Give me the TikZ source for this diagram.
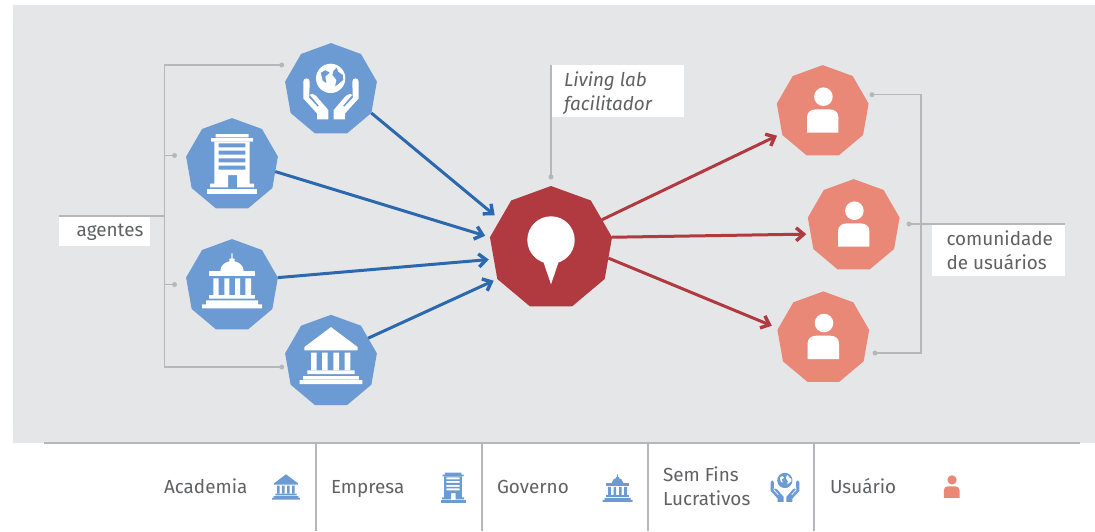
\documentclass[tikz,border=0pt]{standalone}
\usepackage{fontspec}
\setmainfont{Fira Sans}
\usetikzlibrary{shapes.geometric,arrows.meta}
\definecolor{bggray}{HTML}{E5E6E8}
\definecolor{ngblue}{HTML}{6C9AD2}
\definecolor{arblue}{HTML}{2B68AE}
\definecolor{arred}{HTML}{B03A40}
\definecolor{salmon}{HTML}{EA8877}
\definecolor{leader}{HTML}{B5B7BA}
\definecolor{txtgray}{HTML}{606163}
\tikzset{
  nona/.style={regular polygon,regular polygon sides=9,minimum size=93.2pt,inner sep=0pt,outer sep=0pt,draw=none},
  agentnode/.style={nona,fill=ngblue},
  usernode/.style={nona,fill=salmon},
  hubnode/.style={nona,minimum size=124pt,fill=arred},
  inflow/.style={draw=arblue,line width=3pt,-{Straight Barb[length=7.5pt,width=13pt,line width=3.4pt]}},
  outflow/.style={draw=arred,line width=3pt,-{Straight Barb[length=7.5pt,width=13pt,line width=3.4pt]}},
  leadline/.style={draw=leader,line width=1.3pt},
  leaddot/.style={fill=leader},
  labelbox/.style={fill=white,draw=none,inner sep=0pt,outer sep=0pt,anchor=north west},
  txt/.style={text=txtgray,font=\fontsize{18.9}{24}\selectfont,inner sep=0pt,outer sep=0pt,anchor=base west,align=left},
  legendrule/.style={draw=leader,line width=1.1pt},
  pics/academy/.style={code={
    \fill[#1] (0,-34.3) -- (26.7,-14.3) -- (26.7,-11) -- (-26.7,-11) -- (-26.7,-14.3) -- cycle;
    \fill[#1] (-20,-8.7) rectangle (-14.3,9) (-9,-8.7) rectangle (-3.3,9) (2.3,-8.7) rectangle (8,9) (13.7,-8.7) rectangle (19.3,9);
    \fill[#1] (-23.7,9) rectangle (23.7,12.7) (-27.8,14.7) rectangle (27.8,18.3) (-31.3,18.7) rectangle (31.3,22.7);
  }},
  pics/building/.style={code={
    \fill[#1] (-16.5,-30.7) rectangle (16.5,-27.3) (-21,-26.7) rectangle (21,-23);
    \fill[#1,even odd rule] (-17.7,-23) -- (17.7,-23) -- (17.7,19) -- (22,19) -- (22,22.7) -- (5,22.7) -- (5,10.3) -- (-4,10.3) -- (-4,22.7) -- (-22,22.7) -- (-22,19) -- (-17.7,19) -- cycle
      (-13.3,-21.3) rectangle (13.3,-17.3) (-13.3,-14) rectangle (13.3,-10) (-13.3,-6.3) rectangle (13.3,-2.3) (-13.3,1) rectangle (13.3,5);
    \fill[#1] (-25,24) rectangle (25,29.3);
  }},
  pics/government/.style={code={
    \fill[#1] (-0.7,-32.3) rectangle (0.7,-25) (-2.7,-27) rectangle (2.7,-23);
    \fill[#1] (-11.7,-14.7) arc[start angle=180,end angle=0,x radius=11.7,y radius=-10] -- cycle;
    \fill[#1] (-22.8,-14.7) rectangle (22.8,-9.3);
    \fill[#1] (-18.7,-7.3) rectangle (-13.3,9.3) (-7.7,-7.3) rectangle (-2.7,9.3) (3,-7.3) rectangle (8,9.3) (13.3,-7.3) rectangle (19,9.3);
    \fill[#1] (-22.8,9.3) rectangle (22.8,13) (-26,14.7) rectangle (26,18.3) (-30,18.7) rectangle (30,22.7);
  }},
  pics/earthhands/.style={code={
    \begin{scope}[scale=1/3,shift={(-483,-179)}]
      \fill[#1,even odd rule] (482,145) circle[radius=44]
        (500,112) -- (505,125) -- (519,135) -- (520,150) -- (508,160) -- (495,170) -- (499,150) -- (487,135) -- (490,122) -- cycle
        (452,128) -- (466,120) -- (480,128) -- (466,140) -- (470,160) -- (458,152) -- cycle;
    \end{scope}
    \foreach \sx in {1,-1}{
      \begin{scope}[xscale=\sx]
        \fill[#1] (21.3,-8) .. controls (21.3,-10) and (22.5,-11.3) .. (24.5,-11.3) .. controls (26.5,-11.3) and (27.7,-10) .. (27.7,-8) -- (27.7,8.7) -- (14,23.7) -- (14,29.7) -- (2.7,29.7) -- (2.7,20.3) -- (15,6) .. controls (17,4) and (20.5,3.5) .. (21,5.5) -- (12,16) -- (13.2,17.2) -- (21.8,8) -- cycle;
      \end{scope}
    }
  }},
  pics/person/.style={code={
    \fill[#1] (0.7,-15) circle[radius=9.3];
    \fill[#1] (-15.7,21) -- (-15.7,5.7) .. controls (-15.7,0.5) and (-12,-2.3) .. (-7,-2.3) -- (7,-2.3) .. controls (12,-2.3) and (15.7,0.5) .. (15.7,5.7) -- (15.7,21) -- cycle;
  }},
}
\begin{document}
\begin{tikzpicture}[x=1pt,y=-1pt]
\useasboundingbox (0,0) rectangle (1095,531);
\fill[bggray] (13,5) rectangle (1095,443);

% nodes
\node[agentnode] (globe) at (331,89.7) {};
\node[agentnode] (bldg) at (232,164.7) {};
\node[agentnode] (gov) at (232,285.7) {};
\node[agentnode] (acad) at (331,361.4) {};
\node[hubnode] (hub) at (551,248) {};
\node[usernode] (u1) at (822.7,111.7) {};
\node[usernode] (u2) at (853.7,225.7) {};
\node[usernode] (u3) at (823.3,338) {};

% leader end points
\coordinate (dglobe) at (281.7,65);
\coordinate (dbldg) at (174.5,155.5);
\coordinate (dgov) at (174.5,284.5);
\coordinate (dacad) at (281.7,367);
\coordinate (dhub) at (551,177);
\coordinate (du1) at (872,94.7);
\coordinate (du2) at (909,224);
\coordinate (du3) at (875,353);

% label boxes
\node[labelbox,minimum width=91pt,minimum height=30pt] (agbox) at (59,216) {};
\node[labelbox,minimum width=132pt,minimum height=52pt] (fabox) at (552,65) {};
\node[labelbox,minimum width=133pt,minimum height=52pt] (cobox) at (932,224) {};

% leaders left
\draw[leadline] (dglobe) -- (164.5,65) -- (164.5,367) -- (dacad);
\draw[leadline] (agbox.north west) -- (164.5,216);
\draw[leadline] (164.5,155.5) -- (dbldg);
\draw[leadline] (164.5,284.5) -- (dgov);
\draw[leadline] (fabox.north west) ++(-1,-0.5) -- (dhub);
\draw[leadline] (du1) -- (921,94.7) -- (921,353) -- (du3);
\draw[leadline] (du2) -- (cobox.north east);
\foreach \d in {dglobe,dbldg,dgov,dacad,dhub,du1,du2,du3}
  \fill[leaddot] (\d) circle[radius=2.5];

% arrows
\draw[inflow,shorten >=7pt] (globe.-30) -- (hub.151);
\draw[inflow,shorten >=5pt] (bldg.-9) -- (hub.170);
\draw[inflow,shorten >=5pt] (gov.10) -- (hub.191);
\draw[inflow,shorten >=4pt] (acad.32) -- (hub.210);
\draw[outflow,shorten >=5.5pt] (hub.29) -- (u1.208);
\draw[outflow,shorten >=4.5pt] (hub.10) -- (u2.191.6);
\draw[outflow,shorten >=7pt] (hub.-10) -- (u3.168.5);

% icons
\pic at (globe) {earthhands=white};
\pic at (bldg) {building=white};
\pic at (gov) {government=white};
\pic at (acad) {academy=white};
\pic at (u1) {person=white};
\pic at (u2) {person=white};
\pic at (u3) {person=white};
\fill[white] (hub.center) ++(0,-8) circle[radius=23.7];
\fill[white] (hub.center) ++(-7.7,13.7) -- ++(7.7,22.6) -- ++(7.7,-22.6) -- ++(0,-8) -- ++(-15.4,0) -- cycle;

% labels
\node[txt] (ag) at (76.7,236) {agentes};
\node[txt,font=\fontsize{18.9}{24}\selectfont\itshape] (fa) at (564,110) {Living lab\\facilitador};
\node[txt] (co) at (946.5,269) {comunidade\\de usuários};

% legend
\draw[legendrule] (44,443) -- (1080,443);
\foreach \x in {316,482,648,814}
  \draw[legendrule] (\x,443) -- (\x,531);
\node[txt] (la) at (164,493) {Academia};
\node[txt] (le) at (331,493) {Empresa};
\node[txt] (lg) at (497,493) {Governo};
\node[txt] (ls) at (663,505) {Sem Fins\\Lucrativos};
\node[txt] (lu) at (830,493) {Usuário};
\pic[scale=.445] at (286,489.6) {academy=ngblue};
\pic[scale=.5] at (453,487.9) {building=ngblue};
\pic[scale=.5] at (617.5,490.4) {government=ngblue};
\pic[scale=.52] at (785,486.3) {earthhands=ngblue};
\pic[scale=.5] at (951.7,487.4) {person=salmon};
\end{tikzpicture}
\end{document}
